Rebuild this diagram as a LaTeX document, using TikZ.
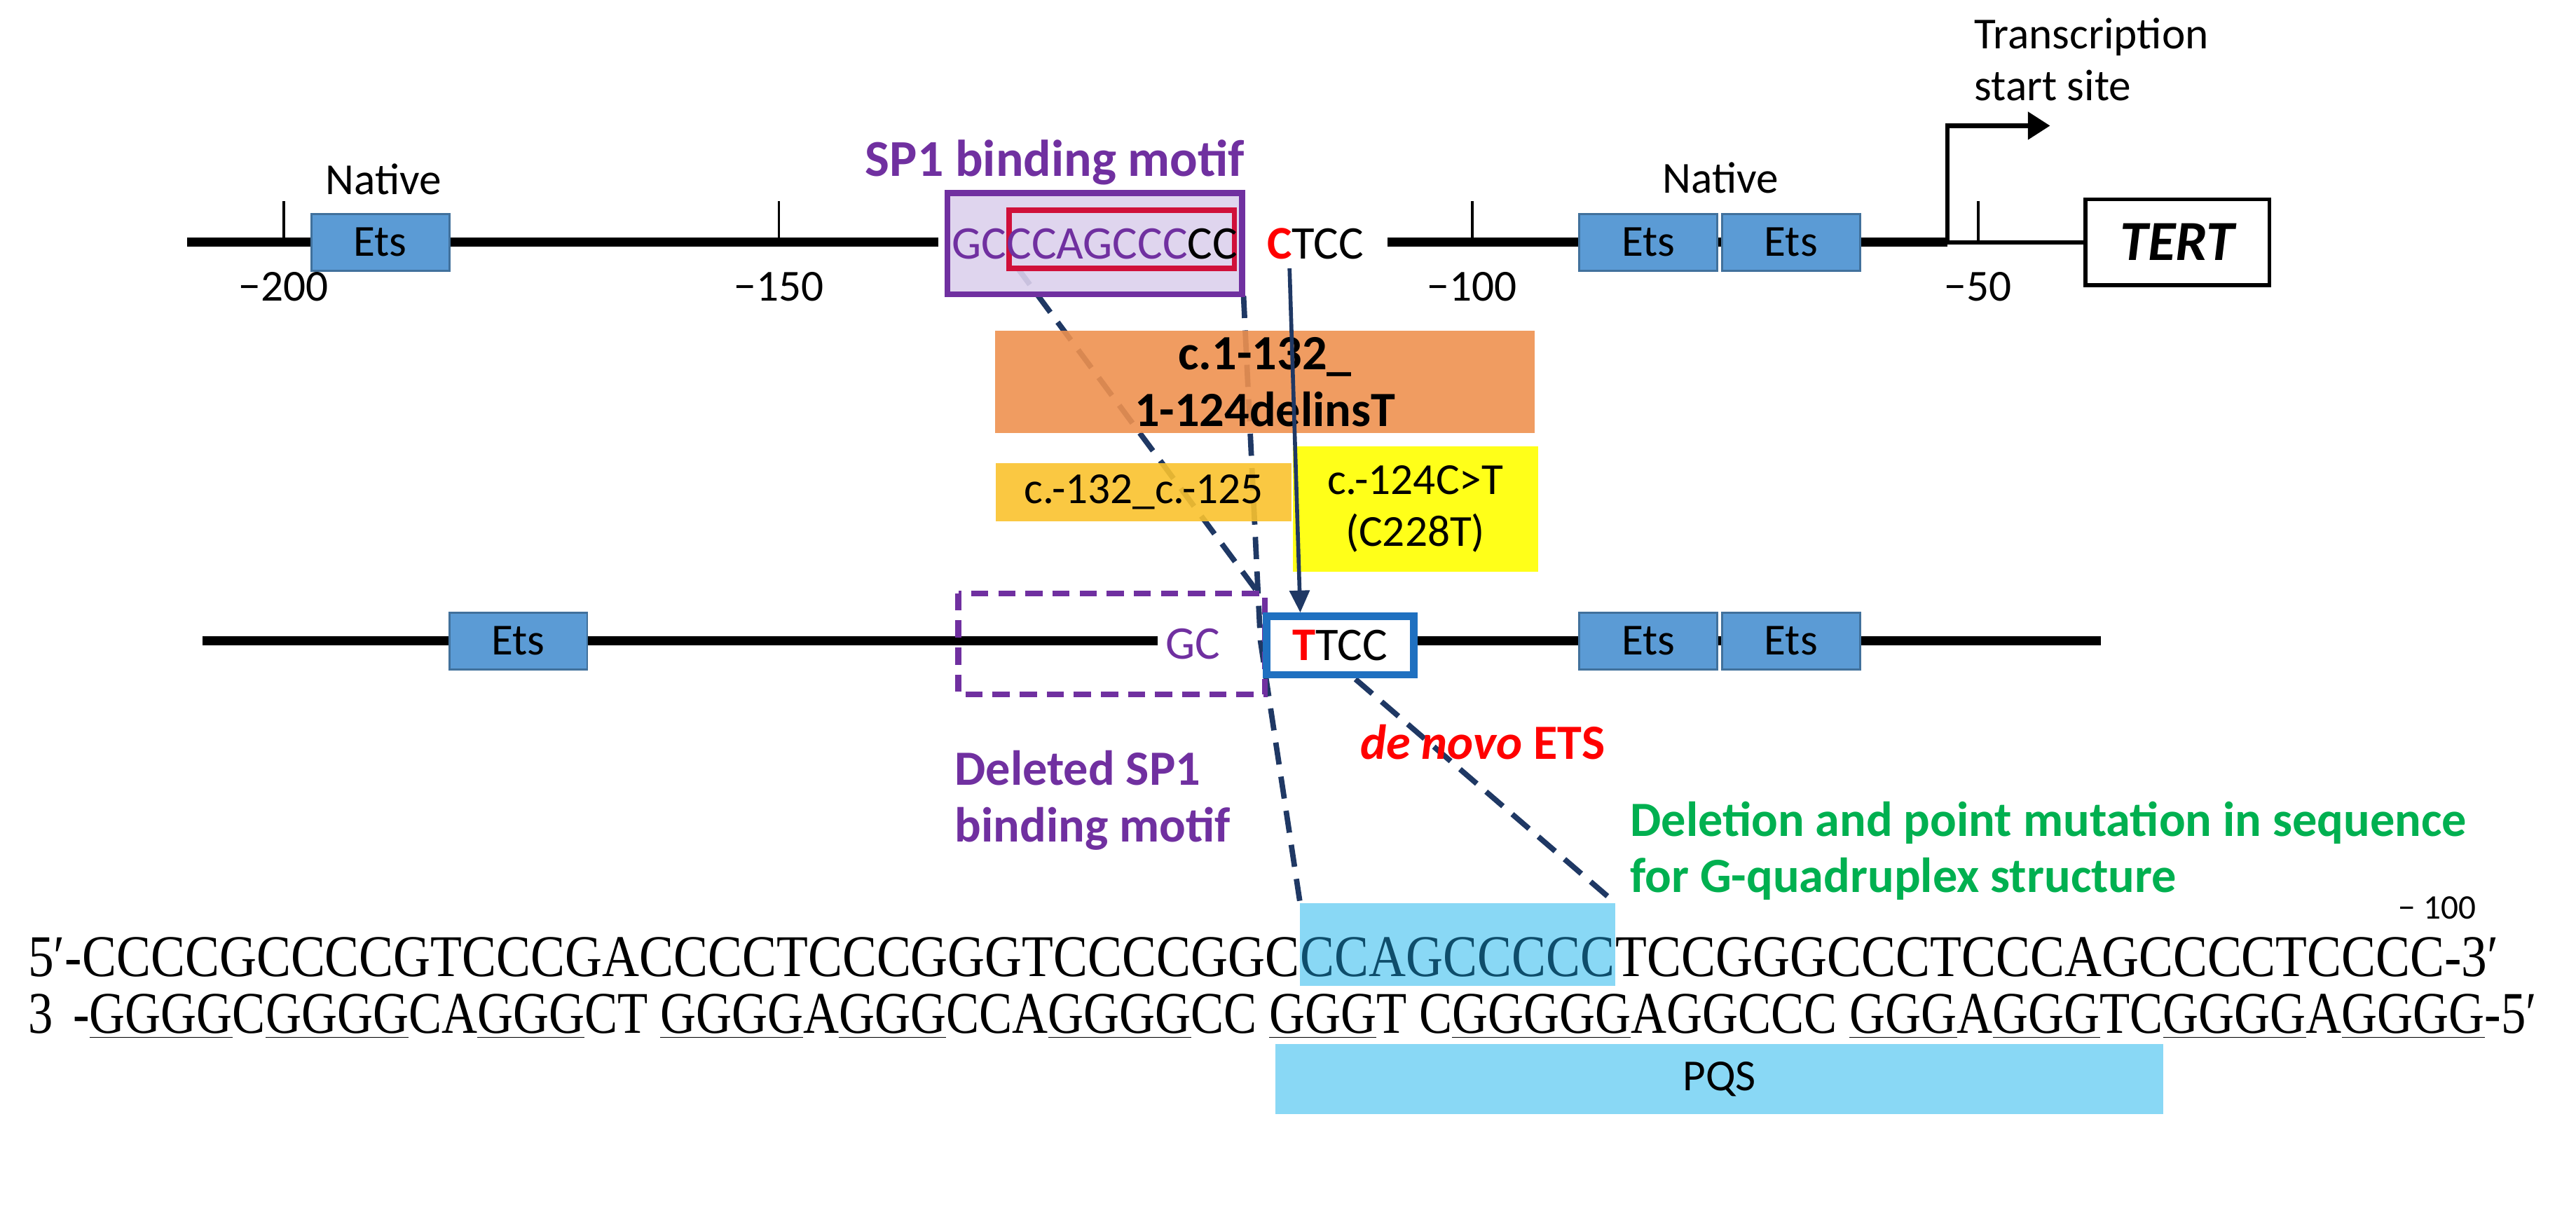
\documentclass[tikz,border=0pt]{standalone}
\usepackage{fontspec}
\setmainfont{Carlito}
\newfontfamily\seqf[FakeStretch=0.87]{Liberation Serif}
\usetikzlibrary{arrows.meta,calc,backgrounds}
\definecolor{purp}{HTML}{7030A0}
\definecolor{lav}{HTML}{DCD0EC}
\definecolor{rbox}{HTML}{D0103A}
\definecolor{orng}{HTML}{EE9150}
\definecolor{gold}{HTML}{F9C22E}
\definecolor{yel}{HTML}{FFFF00}
\definecolor{etsf}{HTML}{5B9BD5}
\definecolor{etsb}{HTML}{41719C}
\definecolor{navy}{HTML}{1F3864}
\definecolor{tbox}{HTML}{1F70C0}
\definecolor{cyanb}{HTML}{89D8F5}
\definecolor{grn}{HTML}{00B050}
\definecolor{seqc}{HTML}{0E4D6B}
\newcommand\ug[1]{\underline{#1}}
\newcommand\seqfont{\seqf\fontsize{24}{27}\selectfont}
\begin{document}
\begin{tikzpicture}[x=0.02188cm,y=-0.02188cm,
  dna/.style={line width=1.3mm},
  ets/.style={draw=etsb,fill=etsf,line width=0.8pt,minimum width=90*0.02188cm,minimum height=37*0.02188cm,inner sep=0,font=\fontsize{18}{20}\selectfont},
  tick/.style={line width=1.1pt},
  num/.style={font=\fontsize{18}{21}\selectfont},
  seq/.style={font=\seqfont,inner xsep=0,inner ysep=0,anchor=base west},
  dsh/.style={navy,line width=2.2pt,dash pattern=on 9pt off 5pt},
  mbox/.style={inner sep=0,fill opacity=0.9,text opacity=1,align=center}]
\useasboundingbox (0,0) rectangle (1680,797);
% coordinates
\coordinate (l1a) at (122,158); \coordinate (l1b) at (612,158);
\coordinate (l1c) at (905,158); \coordinate (l1d) at (1360,158);
\coordinate (l2a) at (132,418); \coordinate (l2b) at (755,418);
\coordinate (l2c) at (1370,418);
% top DNA line
\draw[dna] (l1a) -- (l1b);
\draw[dna] (l1c) -- (1270,158);
\draw[line width=1.8pt] (1270,158) -- (l1d);
\foreach \x/\n in {185/{−200},508/{−150},960/{−100},1290/{−50}}{
  \draw[tick] (\x,158) -- (\x,131);
  \node[num] at (\x,187) {\n};}
\node[ets] (e1) at (248,158) {Ets};
\node[num] (nat1) at (250,117) {Native};
\node[ets] (e2) at (1075,158) {Ets};
\node[ets] (e3) at (1168,158) {Ets};
\node[num] (nat2) at (1122,116) {Native};
\node[draw,line width=1.6pt,fill=white,minimum width=120*0.02188cm,minimum height=56*0.02188cm,inner sep=0,font=\fontsize{23}{25}\selectfont\bfseries\itshape] (tert) at (1420,158) {TERT};
\draw[line width=1.8pt] (1360,158) -- (tert.west);
\coordinate (tss0) at (1270,158); \coordinate (tss1) at (1337,82);
\draw[line width=1.8pt,-{Triangle[length=9pt,width=11pt]}] (tss0) |- (tss1);
\node[num,align=left,anchor=north west] (tsst) at (1282,6) {Transcription\\start site};
% sequence (bottom)
\node[seq] (s1) at (18,637) {5′-CCCCGCCCCGTCCCGACCCCTCCCGGGTCCCCGGC};
\node[seq,text=seqc] (s2) at (s1.base east) {CCAGCCCCC};
\node[seq] (s3) at (s2.base east) {TCCGGGCCCTCCCAGCCCCTCCCC-3′};
\begin{pgfonlayer}{background}
\fill[cyanb] (s2.west |- 0,589) coordinate (cyNW) rectangle (s2.east |- 0,643);
\end{pgfonlayer}
\node[seq] (b1) at (18,674) {\resizebox{35.8cm}{\height}{3\phantom{′}\,-\ug{GGGG}C\ug{GGGG}CA\ug{GGG}CT \ug{GGGG}A\ug{GGG}CCA\ug{GGGG}CC \ug{GGG}T C\ug{GGGGG}AGGCCC \ug{GGG}A\ug{GGG}TC\ug{GGGG}A\ug{GGGG}-5′}};
\coordinate (cyNE) at (cyNW -| s2.east);
\node[num,font=\fontsize{14}{16}\selectfont] (m100) at ($(s2.east |- 0,592)!0.93!(s3.east |- 0,592)$) {− 100};
\fill[cyanb] ($(cyNW)+(-16,92)$) coordinate (pqsNW) rectangle ($(s2.east)!0.62!(s3.east) + (0,102)$) coordinate (pqsSE);
\node[num] (pqs) at ($(pqsNW)!0.5!(pqsSE)$) {PQS};
% dashed connectors (under boxes)
\coordinate (rsw) at (663,174);
\coordinate (psE) at (811,193);
\draw[dsh] (rsw) -- (823,390);
\draw[dsh] (psE) -- (822,418) -- (cyNW);
\draw[dsh] (884,443) -- (cyNE);
% second line
\draw[dna] (l2a) -- (l2b);
\draw[dna] (923,418) -- (l2c);
\node[ets] (e4) at (338,418) {Ets};
\node[ets] (e5) at (1075,418) {Ets};
\node[ets] (e6) at (1168,418) {Ets};
\draw[purp,line width=2.4pt,dash pattern=on 7pt off 4pt] (625,387) rectangle (825,453);
\node[text=purp,font=\fontsize{19}{21}\selectfont] (gc) at (778,420) {GC};
\node[draw=tbox,line width=3pt,fill=white,minimum width=96*0.02188cm,minimum height=38*0.02188cm,inner sep=0,font=\fontsize{19}{21}\selectfont] (ttcc) at (874,421) {\textcolor{red}{\bfseries T}TCC};
% SP1 motif
\node[draw=purp,fill=lav,line width=2.4pt,minimum width=192*0.02188cm,minimum height=66*0.02188cm,inner sep=0,fill opacity=0.9] (sp1) at (714,159) {};
\draw[rbox,line width=2.2pt] (658,137) rectangle (805,175);
\node[font=\fontsize{19}{21}\selectfont,inner sep=0] (mot) at (714,159) {\textcolor{purp}{GCCCAGCCC}CC};
\node[text=purp,font=\fontsize{21}{23}\selectfont\bfseries] (sp1t) at (688,106) {SP1 binding motif};
\node[font=\fontsize{19}{21}\selectfont,anchor=west,inner sep=0] (ctcc) at (826,159) {\textcolor{red}{\bfseries C}TCC};
% mutation boxes
\node[mbox,fill=orng,minimum width=352*0.02188cm,minimum height=67*0.02188cm,font=\fontsize{20}{23}\selectfont\bfseries] (delins) at (825,249) {c.1-132\_\\1-124delinsT};
\node[mbox,fill=gold,minimum width=193*0.02188cm,minimum height=38*0.02188cm,font=\fontsize{18}{21}\selectfont] (del) at (746,321) {c.-132\_c.-125};
\node[mbox,fill=yel,minimum width=160*0.02188cm,minimum height=82*0.02188cm,font=\fontsize{18}{21}\selectfont] (pm) at (923,332) {c.-124C>T\\(C228T)};
\draw[navy,line width=1.6pt,-{Triangle[length=9pt,width=8pt]}] (841,175) -- (ttcc.north -| 848,0);
% labels
\node[text=red,font=\fontsize{20}{22}\selectfont\bfseries] (dn) at (967,484) {\textit{de novo} ETS};
\node[text=purp,font=\fontsize{20}{23}\selectfont\bfseries,align=left,anchor=north west] (dsp) at (617,484) {Deleted SP1\\binding motif};
\node[text=grn,font=\fontsize{20}{23}\selectfont\bfseries,align=left,anchor=north west] (gq) at ($(cyNE)+(4,-72)$) {Deletion and point mutation in sequence\\for G-quadruplex structure};
\end{tikzpicture}
\end{document}
